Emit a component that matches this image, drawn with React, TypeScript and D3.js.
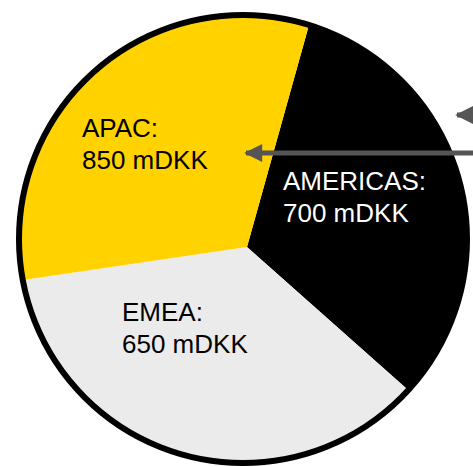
import React, { useRef, useEffect } from 'react';
import * as d3 from 'd3';

// regions and their labelled revenue (mDKK)
const regions = ['AMERICAS', 'EMEA', 'APAC'];
const revenue = [700, 650, 850];
// slice sizes as drawn in the picture (degrees), clockwise from AMERICAS
const sliceDegrees = [116, 130, 114];
const sliceColors = ['#000000', '#ebebeb', '#ffd200'];
const labelColors = ['#ffffff', '#000000', '#000000'];

const App: React.FC = () => {
  const svgRef = useRef<SVGSVGElement | null>(null);
  const width = 473;
  const height = 467;

  useEffect(() => {
    if (!svgRef.current) return;
    d3.select(svgRef.current).selectAll('*').remove();

    const svg = d3.select(svgRef.current)
      .attr('width', width)
      .attr('height', height)
      .style('background-color', '#fff');

    // outline circle and the pie centre are slightly apart in the drawing
    const ring = { cx: 243, cy: 239, r: 224 };
    const pieCenter = { x: 247, y: 247 };

    const defs = svg.append('defs');
    defs.append('clipPath')
      .attr('id', 'pie-clip')
      .append('circle')
      .attr('cx', ring.cx)
      .attr('cy', ring.cy)
      .attr('r', ring.r - 2);

    // arrow head, tip at the end of the line
    defs.append('marker')
      .attr('id', 'arrow-head')
      .attr('viewBox', '0 0 10 10')
      .attr('refX', 9)
      .attr('refY', 5)
      .attr('markerWidth', 3.8)
      .attr('markerHeight', 3.6)
      .attr('markerUnits', 'strokeWidth')
      .attr('orient', 'auto')
      .append('path')
      .attr('d', 'M0,0 L10,5 L0,10 Z')
      .attr('fill', '#555');

    const startAngle = (15.6 * Math.PI) / 180;
    const pie = d3.pie<number>()
      .sort(null)
      .value(d => d)
      .startAngle(startAngle)
      .endAngle(startAngle + 2 * Math.PI);

    const arc = d3.arc<d3.PieArcDatum<number>>()
      .innerRadius(0)
      .outerRadius(320);

    svg.append('g')
      .attr('clip-path', 'url(#pie-clip)')
      .append('g')
      .attr('transform', `translate(${pieCenter.x},${pieCenter.y})`)
      .selectAll('path')
      .data(pie(sliceDegrees))
      .enter().append('path')
      .attr('d', arc)
      .attr('fill', (_, i) => sliceColors[i]);

    // black outline
    svg.append('circle')
      .attr('cx', ring.cx)
      .attr('cy', ring.cy)
      .attr('r', ring.r)
      .attr('fill', 'none')
      .attr('stroke', '#000')
      .attr('stroke-width', 6);

    // labels
    const labelPos = [
      { x: 283, y: 190 },
      { x: 122, y: 321 },
      { x: 82, y: 137 },
    ];
    const labels = svg.append('g')
      .style('font-family', '"Liberation Sans", Arial, sans-serif')
      .style('font-size', '26px');

    regions.forEach((name, i) => {
      const t = labels.append('text')
        .attr('x', labelPos[i].x)
        .attr('y', labelPos[i].y)
        .attr('fill', labelColors[i]);
      t.append('tspan').attr('x', labelPos[i].x).text(`${name}:`);
      t.append('tspan').attr('x', labelPos[i].x).attr('dy', 32).text(`${revenue[i]} mDKK`);
    });

    // arrows pointing in from the right
    svg.append('line')
      .attr('x1', 500).attr('y1', 153)
      .attr('x2', 246).attr('y2', 153)
      .attr('stroke', '#555')
      .attr('stroke-width', 5)
      .attr('marker-end', 'url(#arrow-head)');

    svg.append('line')
      .attr('x1', 540).attr('y1', 115)
      .attr('x2', 457).attr('y2', 115)
      .attr('stroke', '#555')
      .attr('stroke-width', 5)
      .attr('marker-end', 'url(#arrow-head)');
  }, []);

  return (
    <div style={{ position: 'absolute', left: 0, top: 0 }}>
      <svg ref={svgRef} style={{ display: 'block' }}></svg>
    </div>
  );
};

export default App;
